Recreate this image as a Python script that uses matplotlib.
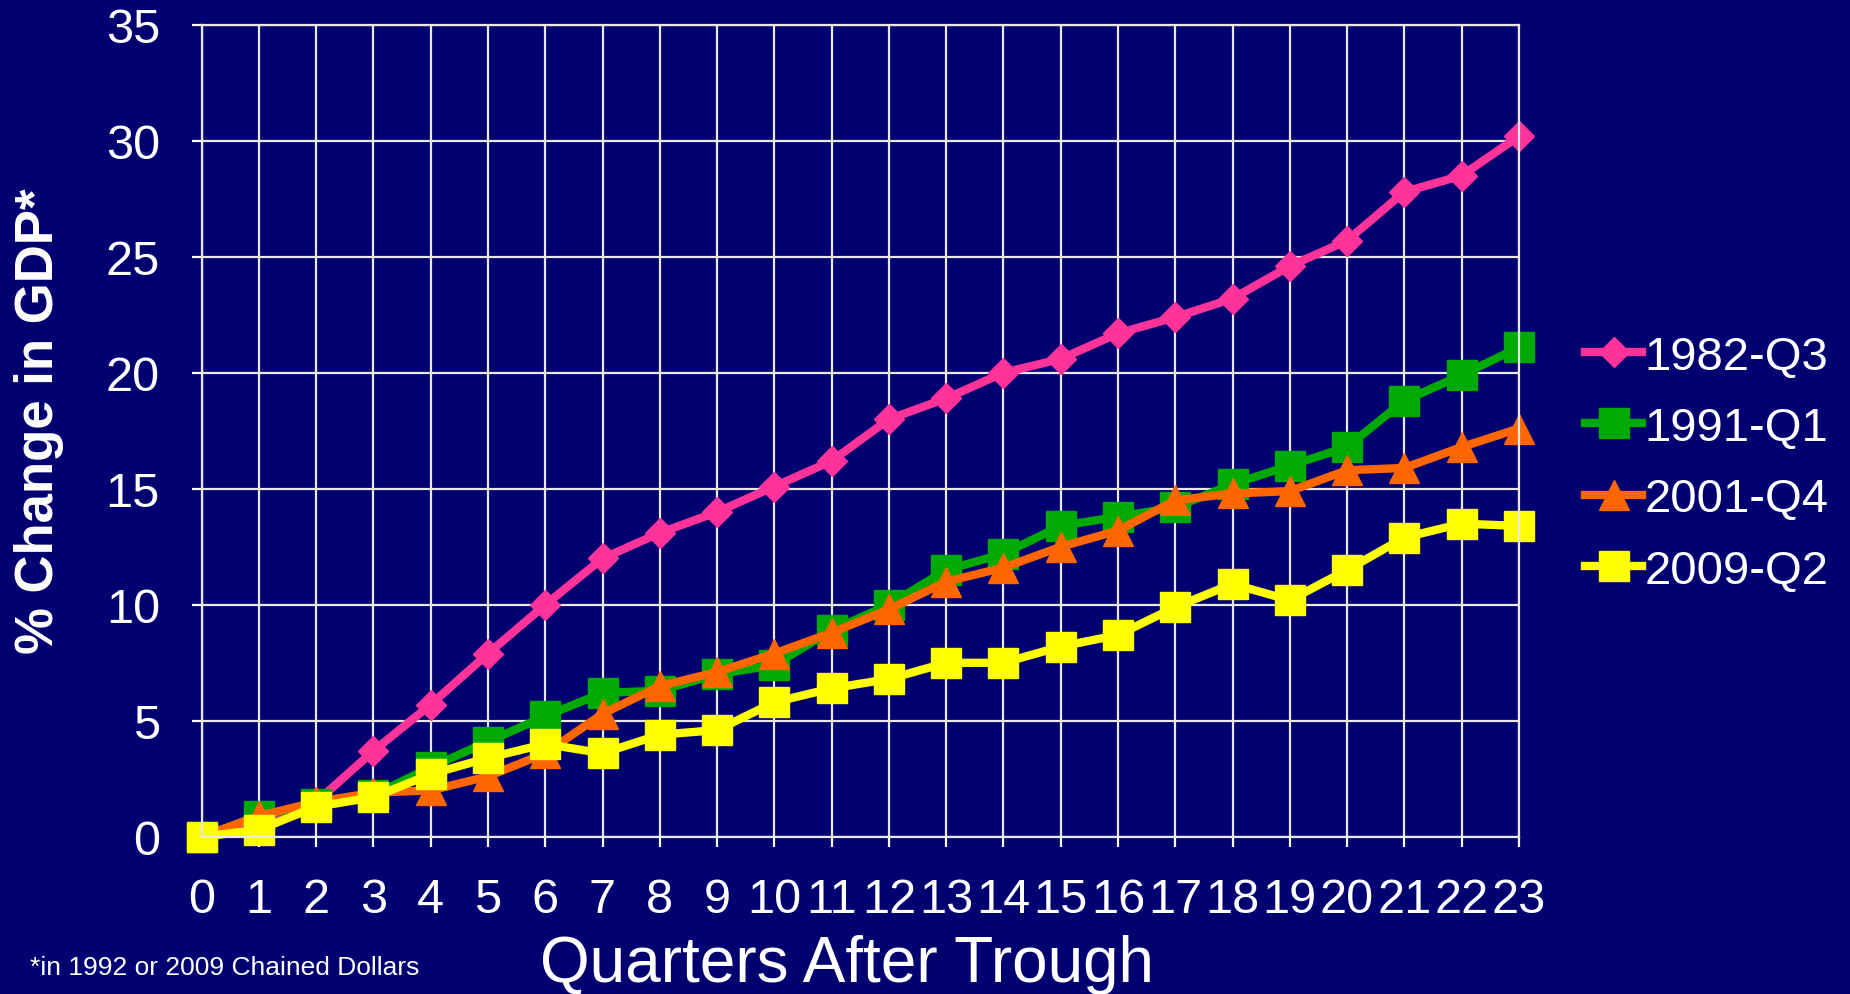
import matplotlib
matplotlib.use("Agg")
import matplotlib.pyplot as plt

# quarters after the trough
quarters = list(range(24))

gdp_1982 = [0, 0.4, 1.5, 3.7, 5.7, 7.9, 10.0, 12.0, 13.1, 14.0, 15.1, 16.2,
            18.0, 18.9, 20.0, 20.6, 21.7, 22.4, 23.2, 24.6, 25.7, 27.8, 28.5, 30.2]
gdp_1991 = [0, 0.9, 1.4, 1.8, 3.0, 4.1, 5.2, 6.2, 6.3, 7.0, 7.4, 8.9,
            10.0, 11.5, 12.2, 13.4, 13.8, 14.2, 15.2, 16.0, 16.8, 18.8, 19.9, 21.1]
gdp_2001 = [0, 0.9, 1.5, 1.9, 2.0, 2.6, 3.6, 5.3, 6.5, 7.1, 7.9, 8.8,
            9.8, 11.0, 11.6, 12.5, 13.2, 14.5, 14.8, 14.9, 15.8, 15.9, 16.8, 17.6]
gdp_2009 = [0, 0.3, 1.3, 1.7, 2.7, 3.4, 4.0, 3.6, 4.4, 4.6, 5.8, 6.4,
            6.8, 7.5, 7.5, 8.2, 8.7, 9.9, 10.9, 10.2, 11.5, 12.9, 13.5, 13.4]

labels = ["1982-Q3", "1991-Q1", "2001-Q4", "2009-Q2"]
yticks = [0, 5, 10, 15, 20, 25, 30, 35]

navy = "#000070"
plt.rcParams["font.family"] = ["Liberation Sans", "DejaVu Sans"]

fig = plt.figure(figsize=(18.5, 9.95), dpi=100, facecolor=navy)
ax = fig.add_axes([0.109, 0.158, 0.712, 0.816], facecolor=navy)

lw = 6
ax.plot(quarters, gdp_1982, color="#FF3399", lw=lw, marker="D", ms=15,
        label=labels[0], clip_on=False)
ax.plot(quarters, gdp_1991, color="#00AA00", lw=lw, marker="s", ms=21,
        label=labels[1], clip_on=False)
ax.plot(quarters, gdp_2001, color="#FF6600", lw=lw, marker="^", ms=22,
        label=labels[2], clip_on=False)
ax.plot(quarters, gdp_2009, color="#FFFF00", lw=lw, marker="s", ms=21,
        label=labels[3], clip_on=False)

ax.set_xlim(0, 23)
ax.set_ylim(0, 35)
ax.set_xticks(quarters)
ax.set_yticks(yticks)
ax.grid(True, color="#E8E8E8", lw=1.6)
ax.set_axisbelow(True)
for s in ax.spines.values():
    s.set_color("#E8E8E8")
    s.set_linewidth(1.6)
ax.tick_params(colors="white", labelsize=35, length=7, width=1.6)
ax.tick_params(axis="x", pad=22)
ax.tick_params(axis="y", pad=23)

fig.text(0.021, 0.577, "% Change in GDP*", rotation=90, ha="center", va="center",
         color="white", fontsize=38, fontweight="bold")
fig.text(0.458, 0.013, "Quarters After Trough", ha="center", va="baseline",
         color="white", fontsize=46)
fig.text(0.016, 0.020, "*in 1992 or 2009 Chained Dollars", ha="left", va="baseline",
         color="white", fontsize=19)

leg = ax.legend(loc="center left", bbox_to_anchor=(0.857, 0.533),
                bbox_transform=fig.transFigure, frameon=False, fontsize=34,
                handlelength=1.2, handletextpad=0.05, labelspacing=0.58,
                borderpad=0, borderaxespad=0)
for t in leg.get_texts():
    t.set_color("white")

fig.savefig("out.png", dpi=100, facecolor=navy)
